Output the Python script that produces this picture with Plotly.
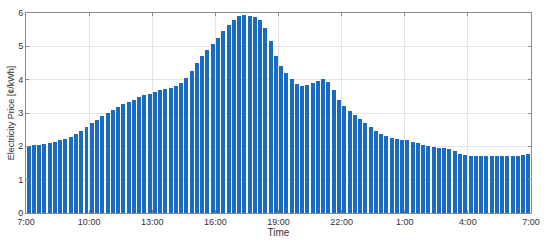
import plotly.graph_objects as go

# price per 15-minute slot, 7:00 -> 7:00 next day
price = [2.02, 2.03, 2.05, 2.07, 2.10, 2.14, 2.18, 2.23, 2.29, 2.37, 2.47, 2.58,
         2.70, 2.80, 2.90, 3.00, 3.10, 3.18, 3.26, 3.33, 3.40, 3.47, 3.53, 3.58,
         3.63, 3.68, 3.72, 3.76, 3.80, 3.90, 4.05, 4.25, 4.50, 4.70, 4.90, 5.08,
         5.25, 5.45, 5.63, 5.80, 5.90, 5.93, 5.92, 5.88, 5.78, 5.55, 5.15, 4.72,
         4.42, 4.20, 4.02, 3.87, 3.82, 3.84, 3.90, 3.97, 4.02, 3.93, 3.70, 3.38,
         3.20, 3.06, 2.95, 2.82, 2.70, 2.58, 2.47, 2.37, 2.30, 2.25, 2.22, 2.20,
         2.18, 2.14, 2.10, 2.05, 2.00, 1.98, 1.96, 1.94, 1.91, 1.86, 1.78, 1.73,
         1.72, 1.72, 1.72, 1.72, 1.72, 1.72, 1.72, 1.72, 1.72, 1.72, 1.73, 1.76]
tick_labels = ["7:00", "10:00", "13:00", "16:00", "19:00", "22:00", "1:00", "4:00", "7:00"]
slots_per_tick = 12

n = len(price)
x = [i + 0.5 for i in range(n)]

fig = go.Figure()
fig.add_trace(go.Bar(
    x=x, y=price,
    width=0.76,
    marker=dict(color="#1a6cc0", line=dict(width=0)),
    showlegend=False
))

axis_style = dict(
    showline=True, linecolor="#8a8a8a", linewidth=1, mirror="ticks",
    ticks="inside", ticklen=3, tickcolor="#8a8a8a",
    showgrid=True, gridcolor="#e4e4e4", gridwidth=1,
    zeroline=False, automargin=False,
    tickfont=dict(family="Liberation Sans, Arial", size=9, color="#333333"),
)

fig.update_layout(
    width=550, height=244,
    margin=dict(l=26, r=19, t=13, b=31),
    plot_bgcolor="white", paper_bgcolor="white",
    bargap=0,
    xaxis=dict(
        range=[0, n],
        tickvals=[k * slots_per_tick for k in range(len(tick_labels))],
        ticktext=tick_labels,
        title=dict(text="Time", standoff=0,
                   font=dict(family="Liberation Sans, Arial", size=10, color="#333333")),
        **axis_style
    ),
    yaxis=dict(
        range=[0, 6],
        dtick=1,
        title=dict(text="Electricity Price [¢/kWh]", standoff=2,
                   font=dict(family="Liberation Sans, Arial", size=9, color="#333333")),
        **axis_style
    ),
)

# page has a default body margin; drop it so the figure sits at the top-left
fig.write_html("out.html", config={"displayModeBar": False},
               post_script="document.body.style.margin='0';")
